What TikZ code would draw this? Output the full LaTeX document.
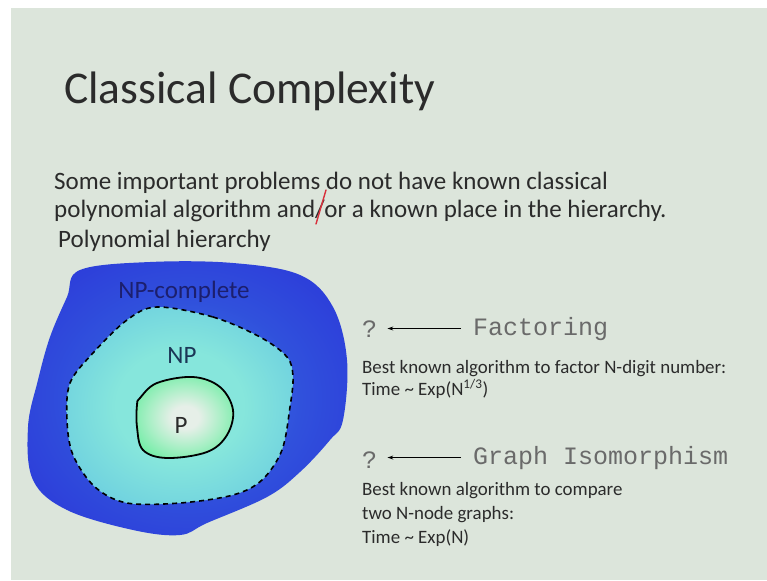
\documentclass[tikz,border=0pt]{standalone}
\usepackage{fontspec}
\setmainfont{Carlito}
\newfontfamily\cmono{Liberation Mono}
\usepackage{xcolor}
\usepackage{tikz}
\usetikzlibrary{arrows.meta,positioning,calc}

\definecolor{slidebg}{HTML}{DCE5DB}
\definecolor{inkgray}{HTML}{2B2B2B}
\definecolor{monogray}{HTML}{6A6A6A}
\definecolor{phin}{HTML}{3A78E4}
\definecolor{phmid}{HTML}{3050DC}
\definecolor{phout}{HTML}{2A2DD8}
\definecolor{npin}{HTML}{86E6DC}
\definecolor{npmid}{HTML}{5CC0E2}
\definecolor{npout}{HTML}{3B98DC}
\definecolor{pin}{HTML}{E6EFE8}
\definecolor{pout}{HTML}{58EE98}
\definecolor{npclabel}{HTML}{1C1F6E}
\definecolor{nplabel}{HTML}{1B3656}
\definecolor{penred}{HTML}{D8303C}

\pgfdeclareradialshading{phshade}{\pgfpoint{0bp}{0bp}}{color(0bp)=(phin); color(18bp)=(phmid); color(40bp)=(phout); color(50bp)=(phout)}
\pgfdeclareradialshading{npshade}{\pgfpoint{0bp}{0bp}}{color(0bp)=(npin); color(14bp)=(npin); color(40bp)=(npmid); color(50bp)=(npout)}
\pgfdeclareradialshading{pshade}{\pgfpoint{0bp}{0bp}}{color(0bp)=(pin); color(7bp)=(pin); color(34bp)=(pout); color(50bp)=(pout)}

\begin{document}
\begin{tikzpicture}[x=1pt,y=-1pt,
  every node/.style={inner sep=0pt,text=inkgray},
  bigtxt/.style={font=\fontsize{45.5}{50}\selectfont,anchor=base west},
  bodytxt/.style={font=\fontsize{25}{30}\selectfont,anchor=base west},
  smalltxt/.style={font=\fontsize{18.9}{22}\selectfont,anchor=base west,align=left},
  monotxt/.style={font=\cmono\fontsize{25}{30}\selectfont,anchor=base west,text=monogray},
  setlabel/.style={font=\fontsize{25}{30}\selectfont},
  garrow/.style={-{Stealth[length=6pt,width=4pt]},line width=0.8pt,black}]
\useasboundingbox (0,0) rectangle (767,580);
\fill[white] (0,0) rectangle (767,580);
\fill[slidebg] (11,8) rectangle (767,580);

\node[bigtxt] (title) at (64,104) {Classical Complexity};
\node[bodytxt] (line1) at (54,189) {Some important problems do not have known classical};
\node[bodytxt] (line2) at (54,217) {polynomial algorithm and/or a known place in the hierarchy.};
\draw[penred,line width=1.4pt,line cap=round] (326,190) -- (316,224);

\node[bodytxt] (polyh) at (58,247) {Polynomial hierarchy};

\path[shading=phshade] plot[smooth cycle,tension=0.6] coordinates {(80,270) (150,262) (233,263) (300,275) (333,307) (347,360) (343,420) (330,440) (300,472) (267,497) (207,523) (180,535) (133,530) (67,510) (33,480) (28,427) (38,380) (50,337) (67,297)};
\draw[dashed,dash pattern=on 5pt off 4pt,line width=1.6pt,shading=npshade] plot[smooth cycle,tension=0.55] coordinates {(157,307) (213,317) (260,337) (287,357) (293,377) (290,407) (282,450) (262,480) (233,495) (180,503) (127,503) (95,487) (73,455) (67,420) (70,383) (93,353) (127,320)};
\draw[line width=1.8pt,shading=pshade] plot[smooth cycle,tension=0.6] coordinates {(140,398) (157,383) (193,377) (220,387) (233,410) (227,435) (207,452) (167,458) (143,450) (137,427) (137,405)};

\node[setlabel,text=npclabel] (npc) at (184,292) {NP-complete};
\node[setlabel,text=nplabel] (np) at (182,355) {NP};
\node[setlabel,text=inkgray] (p) at (181,425) {P};

\node[monotxt] (q1) at (362,337) {?};
\node[monotxt] (fact) at (473,335) {Factoring};
\draw[garrow,shorten >=10pt,shorten <=12pt] (fact.west) -- (q1.east |- fact.west);
\node[smalltxt] (fdesc) at (362,395) {Best known algorithm to factor N-digit number:\\Time \textasciitilde{} Exp(N\textsuperscript{1/3})};

\node[monotxt] (q2) at (362,468) {?};
\node[monotxt] (giso) at (473,464) {Graph Isomorphism};
\draw[garrow,shorten >=10pt,shorten <=12pt] (giso.west) -- (q2.east |- giso.west);
\node[smalltxt,font=\fontsize{18.9}{24}\selectfont] (gdesc) at (362,543) {Best known algorithm to compare\\two N-node graphs:\\Time \textasciitilde{} Exp(N)};
\end{tikzpicture}
\end{document}
